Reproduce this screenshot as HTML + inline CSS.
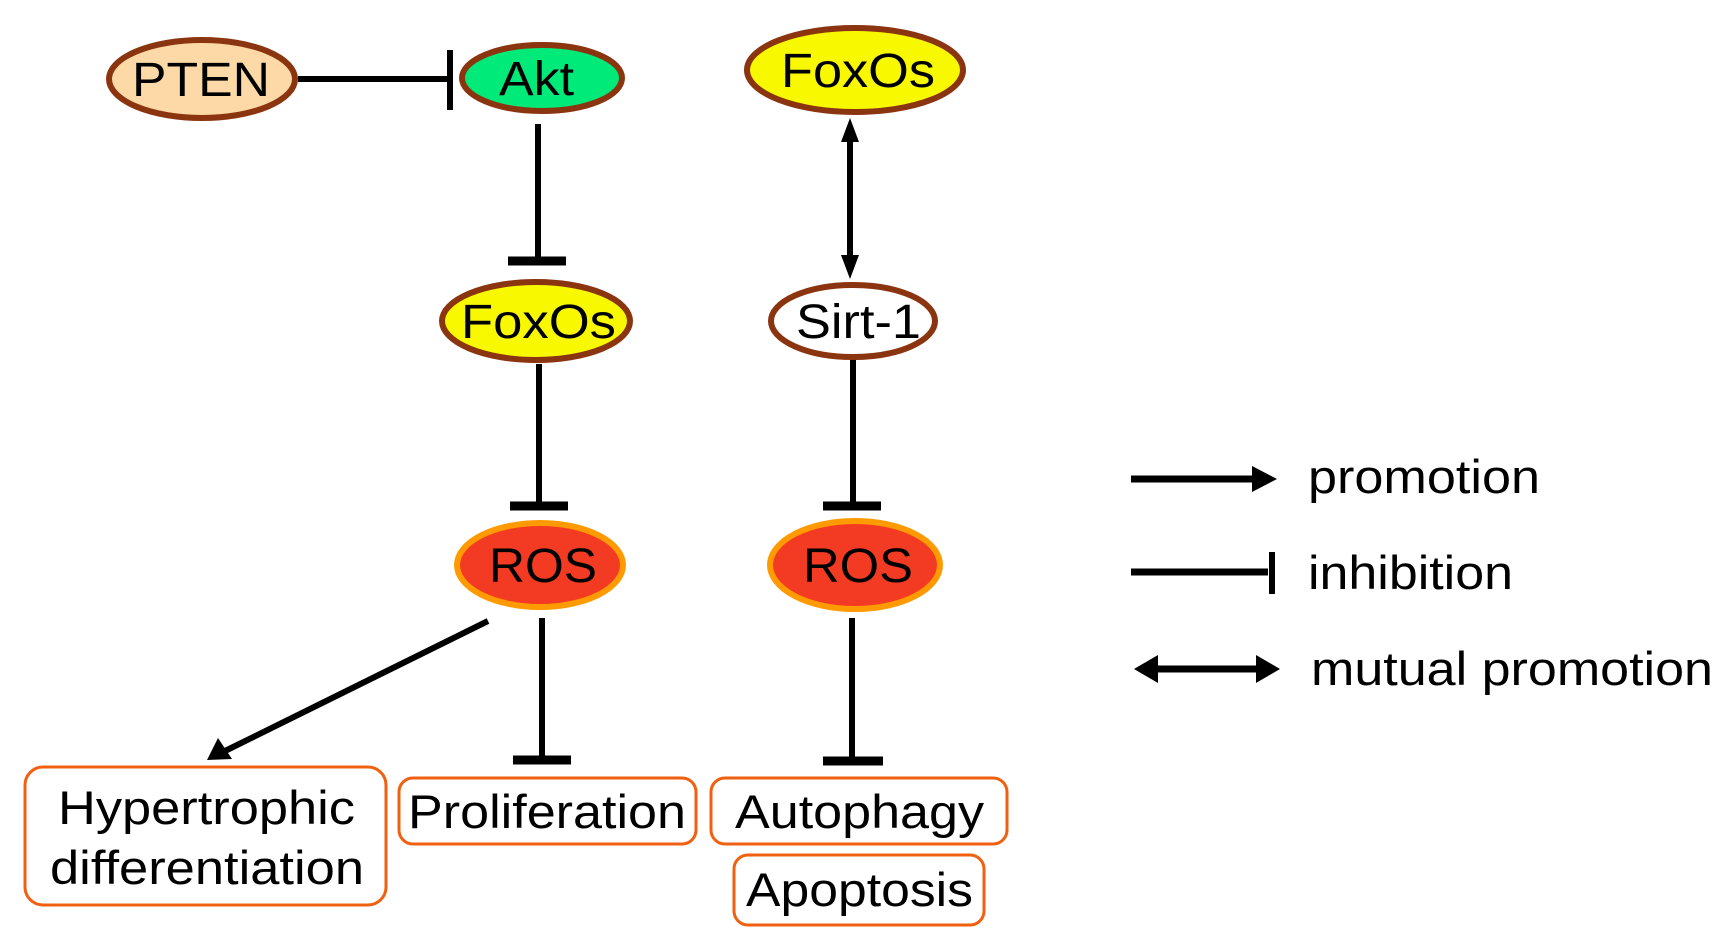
<!DOCTYPE html>
<html><head><meta charset="utf-8"><style>
html,body{margin:0;padding:0;background:#fff;}
svg{display:block;}
text{font-family:"Liberation Sans",Arial,sans-serif;fill:#000;}
</style></head><body>
<svg width="1721" height="947" viewBox="0 0 1721 947" xmlns="http://www.w3.org/2000/svg">
<defs>
<marker id="ah" markerWidth="10" markerHeight="10" refX="8" refY="5" orient="auto" markerUnits="userSpaceOnUse" viewBox="0 0 10 10"><path d="M0,0 L10,5 L0,10 z" fill="#000"/></marker>
</defs>
<g stroke="#000" stroke-width="6" fill="none">
<!-- PTEN -| Akt -->
<line x1="298" y1="79" x2="450" y2="79"/>
<line x1="450" y1="50" x2="450" y2="110"/>
<!-- Akt -| FoxOs -->
<line x1="538" y1="124" x2="538" y2="259"/>
<line x1="508" y1="261" x2="566" y2="261" stroke-width="9"/>
<!-- FoxOs -| ROS -->
<line x1="539" y1="364" x2="539" y2="504"/>
<line x1="510" y1="506" x2="568" y2="506" stroke-width="9"/>
<!-- Sirt -| ROS -->
<line x1="853" y1="358" x2="853" y2="504"/>
<line x1="823" y1="506" x2="881" y2="506" stroke-width="9"/>
<!-- ROS -| Proliferation -->
<line x1="542" y1="618" x2="542" y2="758"/>
<line x1="513" y1="760" x2="571" y2="760" stroke-width="9"/>
<!-- ROS -| Autophagy -->
<line x1="852" y1="618" x2="852" y2="759"/>
<line x1="823" y1="761" x2="883" y2="761" stroke-width="9"/>
<!-- ROS -> Hypertrophic -->
<line x1="488" y1="621" x2="225" y2="751"/>
<!-- FoxOs <-> Sirt-1 -->
<line x1="850" y1="140" x2="850" y2="258"/>
</g>
<path d="M207,760 L218,738 L232,759 z" fill="#000"/>
<path d="M850,118 L841,142 L859,142 z" fill="#000"/>
<path d="M850,279 L841,255 L859,255 z" fill="#000"/>

<!-- nodes -->
<ellipse cx="202" cy="79" rx="93" ry="39" fill="#fcd9a7" stroke="#8b3510" stroke-width="6"/>
<ellipse cx="542" cy="78" rx="80" ry="33" fill="#00ea7a" stroke="#8b3510" stroke-width="6"/>
<ellipse cx="855" cy="70" rx="108" ry="42" fill="#f8f800" stroke="#8b3510" stroke-width="6"/>
<ellipse cx="536" cy="321" rx="94" ry="39" fill="#f8f800" stroke="#8b3510" stroke-width="6"/>
<ellipse cx="853" cy="321" rx="82" ry="36" fill="#fff" stroke="#8b3510" stroke-width="6"/>
<ellipse cx="540" cy="565" rx="83" ry="42" fill="#f23b22" stroke="#ff9a00" stroke-width="6"/>
<ellipse cx="855" cy="565" rx="85" ry="44" fill="#f23b22" stroke="#ff9a00" stroke-width="6"/>

<g font-size="48">
<text x="132" y="96" textLength="138" lengthAdjust="spacingAndGlyphs">PTEN</text>
<text x="499" y="95" textLength="75" lengthAdjust="spacingAndGlyphs">Akt</text>
<text x="781" y="87" textLength="154" lengthAdjust="spacingAndGlyphs">FoxOs</text>
<text x="461" y="338" textLength="155" lengthAdjust="spacingAndGlyphs">FoxOs</text>
<text x="796" y="338" textLength="125" lengthAdjust="spacingAndGlyphs">Sirt-1</text>
<text x="489" y="582" textLength="108" lengthAdjust="spacingAndGlyphs">ROS</text>
<text x="803" y="582" textLength="110" lengthAdjust="spacingAndGlyphs">ROS</text>
</g>

<!-- boxes -->
<g fill="#fff" stroke="#f06010" stroke-width="3">
<rect x="25" y="767" width="361" height="138" rx="18"/>
<rect x="399" y="778" width="297" height="66" rx="14"/>
<rect x="711" y="778" width="296" height="66" rx="14"/>
<rect x="734" y="855" width="250" height="70" rx="14"/>
</g>
<g font-size="47">
<text x="58" y="824" textLength="297" lengthAdjust="spacingAndGlyphs">Hypertrophic</text>
<text x="50" y="884" textLength="314" lengthAdjust="spacingAndGlyphs">differentiation</text>
<text x="408" y="828" textLength="278" lengthAdjust="spacingAndGlyphs">Proliferation</text>
<text x="735" y="828" textLength="249" lengthAdjust="spacingAndGlyphs">Autophagy</text>
<text x="746" y="906" textLength="227" lengthAdjust="spacingAndGlyphs">Apoptosis</text>
</g>

<!-- legend -->
<g stroke="#000" stroke-width="7">
<line x1="1131" y1="479" x2="1255" y2="479"/>
<line x1="1131" y1="572" x2="1268" y2="572"/>
<line x1="1272" y1="552" x2="1272" y2="594" stroke-width="6"/>
<line x1="1155" y1="669" x2="1260" y2="669"/>
</g>
<path d="M1252,466 L1277,479 L1252,492 z" fill="#000"/>
<path d="M1134,669 L1158,655 L1158,683 z" fill="#000"/>
<path d="M1280,669 L1256,655 L1256,683 z" fill="#000"/>
<g font-size="47">
<text x="1308" y="493" textLength="232" lengthAdjust="spacingAndGlyphs">promotion</text>
<text x="1308" y="589" textLength="205" lengthAdjust="spacingAndGlyphs">inhibition</text>
<text x="1311" y="685" textLength="402" lengthAdjust="spacingAndGlyphs">mutual promotion</text>
</g>
</svg>
</body></html>
